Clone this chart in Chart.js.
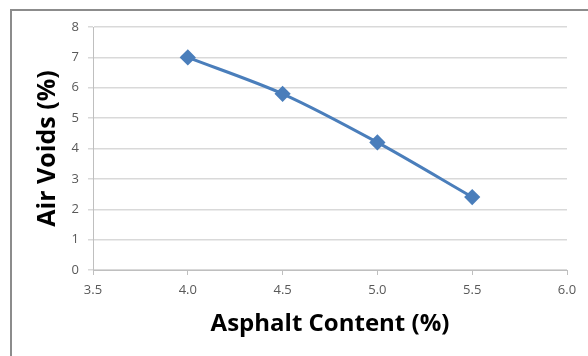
<!DOCTYPE html>
<html>
<head>
<meta charset="utf-8">
<script src="https://cdn.jsdelivr.net/npm/chart.js@4/dist/chart.umd.min.js"></script>
<style>
  body { margin: 0; background: #fff; }
  #wrap { position: relative; width: 588px; height: 356px; }
</style>
</head>
<body>
<div id="wrap"><canvas id="chart" width="588" height="356"></canvas></div>
<script>
// ===== Data =====
const asphaltContent = [4.0, 4.5, 5.0, 5.5];
const airVoids = [7.0, 5.8, 4.2, 2.4];
const xTicks = [3.5, 4.0, 4.5, 5.0, 5.5, 6.0];
const yTicks = [0, 1, 2, 3, 4, 5, 6, 7, 8];

const lineColor = "#4a7ebb";

// ===== Outer frame (left + top edge of the chart box) =====
const framePlugin = {
  id: "frame",
  beforeDraw(chart) {
    const ctx = chart.ctx;
    ctx.save();
    ctx.strokeStyle = "#8c8c8c";
    ctx.lineWidth = 2;
    ctx.beginPath();
    ctx.moveTo(11, 356);
    ctx.lineTo(11, 10);
    ctx.lineTo(588, 10);
    ctx.stroke();
    ctx.restore();
  }
};

new Chart(document.getElementById("chart"), {
  type: "scatter",
  data: {
    datasets: [{
      data: asphaltContent.map((x, i) => ({ x, y: airVoids[i] })),
      showLine: true,
      borderColor: lineColor,
      backgroundColor: lineColor,
      borderWidth: 3,
      tension: 0.3,
      pointStyle: "rectRot",
      pointRadius: 6,
      pointHoverRadius: 6
    }]
  },
  options: {
    responsive: false,
    animation: false,
    layout: { padding: { top: 27, right: 21, left: 0, bottom: 0 } },
    plugins: { legend: { display: false }, tooltip: { enabled: false } },
    scales: {
      x: {
        type: "linear",
        min: 3.5,
        max: 6.0,
        afterBuildTicks: (s) => { s.ticks = xTicks.map(v => ({ value: v })); },
        afterFit: (s) => { s.height = 86; },
        grid: { drawOnChartArea: false, drawTicks: true, tickLength: 5, color: "#bfbfbf" },
        border: { color: "#bfbfbf" },
        ticks: {
          padding: 7,
          color: "#595959",
          font: { family: "Open Sans", size: 13 },
          callback: (v) => Number(v).toFixed(1)
        },
        title: {
          display: true,
          text: "Asphalt Content (%)",
          color: "#000",
          font: { family: "Open Sans", size: 24, weight: "bold" },
          padding: { top: 0, bottom: 17 }
        }
      },
      y: {
        min: 0,
        max: 8,
        afterBuildTicks: (s) => { s.ticks = yTicks.map(v => ({ value: v })); },
        afterFit: (s) => { s.width = 93; },
        grid: { color: "#d9d9d9", drawTicks: true, tickLength: 5, lineWidth: 1.5 },
        border: { color: "#bfbfbf" },
        ticks: {
          padding: 9,
          color: "#595959",
          font: { family: "Open Sans", size: 13 }
        },
        title: {
          display: true,
          text: "Air Voids (%)",
          color: "#000",
          font: { family: "Open Sans", size: 25, weight: "bold" },
          padding: { top: 33, bottom: 0 }
        }
      }
    }
  },
  plugins: [framePlugin]
});
</script>
</body>
</html>
